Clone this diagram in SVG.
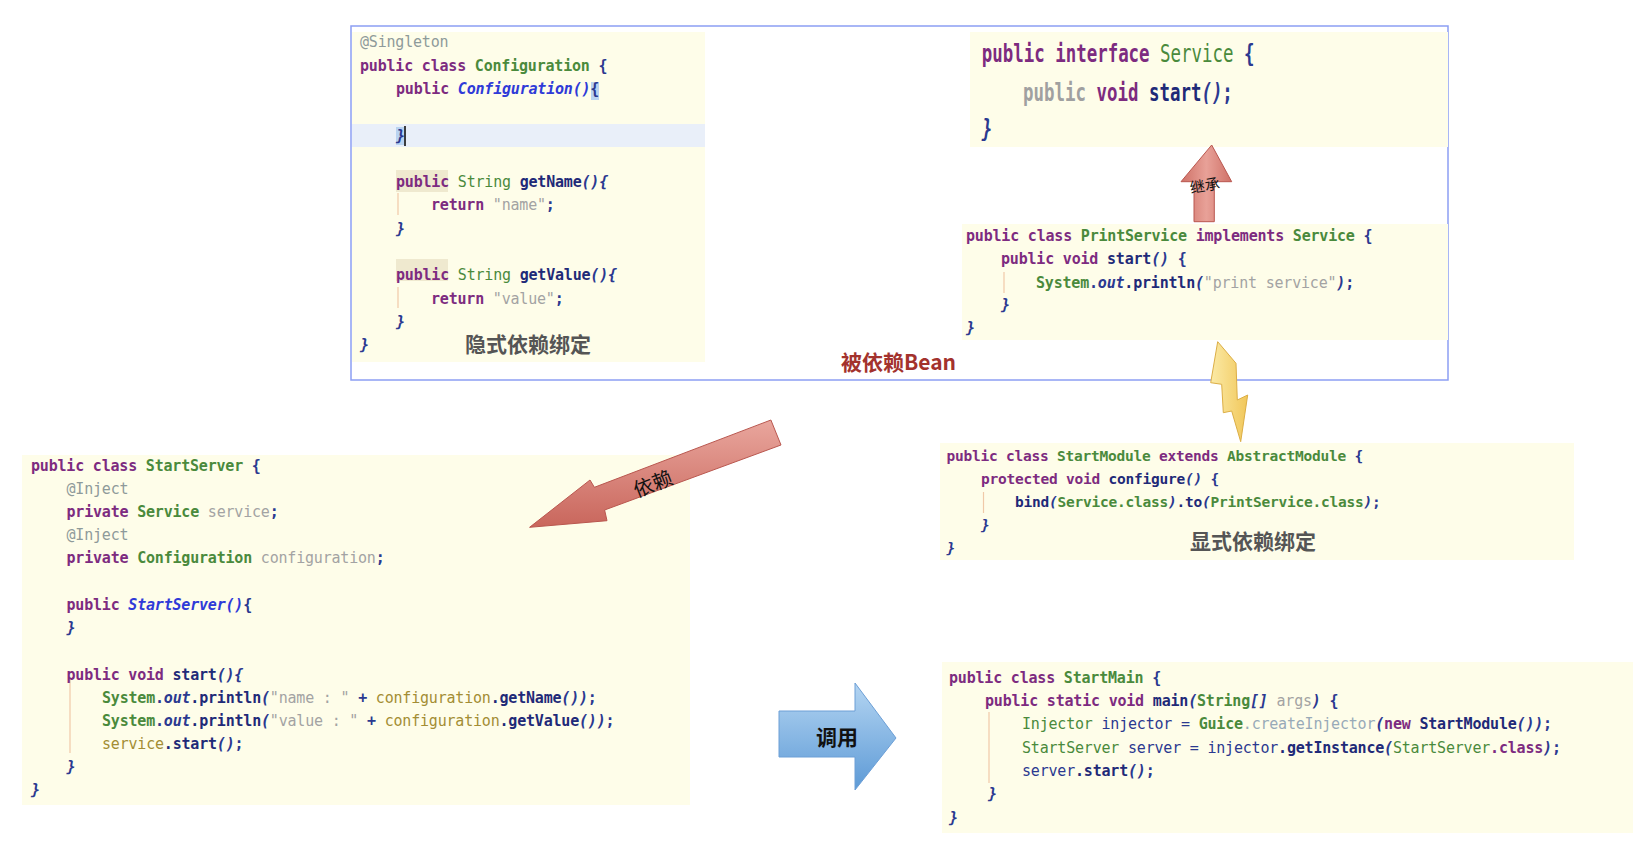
<svg xmlns="http://www.w3.org/2000/svg" width="1640" height="854" viewBox="0 0 1640 854">
<style>
.bg{fill:#fefde9}
.c{font-family:"DejaVu Sans Mono","Liberation Mono",monospace;font-size:15px;letter-spacing:-0.2px;fill:#2b3990}
.cs{font-size:14.5px;letter-spacing:-0.23px}
.cb{font-size:24px;letter-spacing:0}
.k{fill:#7d2b80;font-weight:bold}
.t{fill:#4a8a3c}
.tb{fill:#4a8a3c;font-weight:bold}
.m{fill:#1f2a78;font-weight:bold}
.s{fill:#a3a3a3}
.a{fill:#8e9a9a}
.f{fill:#a38d34}
.gv{fill:#a0a0a0;font-weight:bold}
.ci{fill:#2f3ad8;font-style:italic}
.i{font-style:italic}
.n{fill:#2b3990}
.ce{fill:#98aab8}
.guide{stroke:#f0c9a8;stroke-width:1.2}
.cjk{font-family:"Noto Sans CJK SC","Liberation Sans",sans-serif}
.lbl{font-family:"Noto Sans CJK SC","Liberation Sans",sans-serif;font-weight:bold;font-size:21px;fill:#555}
</style>
<defs>
<linearGradient id="red" x1="0" y1="0" x2="0" y2="1">
<stop offset="0" stop-color="#e9a69d"/><stop offset="1" stop-color="#c9665c"/>
</linearGradient>
<linearGradient id="redH" x1="0" y1="0" x2="1" y2="0">
<stop offset="0" stop-color="#cf7167"/><stop offset="0.5" stop-color="#e8a198"/><stop offset="1" stop-color="#cf7167"/>
</linearGradient>
<linearGradient id="blue" x1="0" y1="0" x2="0" y2="1">
<stop offset="0" stop-color="#b4d5f2"/><stop offset="1" stop-color="#5d9ad6"/>
</linearGradient>
<linearGradient id="yel" x1="0" y1="0" x2="1" y2="0">
<stop offset="0" stop-color="#fbeaa6"/><stop offset="1" stop-color="#f1c75a"/>
</linearGradient>
</defs>

<!-- frame around dependency beans -->
<g id="frame">
<rect x="351" y="26" width="1097" height="354" fill="none" stroke="#8c9ef3" stroke-width="1.5"/>
<text x="841" y="370" font-family="'Noto Sans CJK SC','Liberation Sans',sans-serif" font-size="21" font-weight="bold" fill="#a3322d">被依赖Bean</text>
</g>

<!-- Configuration -->
<g id="configuration">
<rect class="bg" x="352" y="32" width="353" height="330"/>
<rect x="352" y="124" width="353" height="23" fill="#e9eff9"/>
<rect x="591" y="82" width="8" height="18" fill="#b9d3f1"/>
<rect x="396" y="127" width="8" height="18" fill="#b9d3f1"/>
<line x1="405" y1="126" x2="405" y2="146" stroke="#000" stroke-width="1.5"/>
<rect x="396" y="170" width="52" height="22" fill="#efe9cf"/>
<rect x="396" y="259" width="52" height="22" fill="#efe9cf"/>
<line class="guide" x1="398" y1="193" x2="398" y2="215"/>
<line class="guide" x1="398" y1="287" x2="398" y2="308"/>
<text class="c" x="360" y="47"><tspan class="a">@Singleton</tspan></text>
<text class="c" x="360" y="71"><tspan class="k">public class</tspan> <tspan class="tb">Configuration</tspan> <tspan font-weight="bold">{</tspan></text>
<text class="c" x="396" y="94"><tspan class="k">public</tspan> <tspan class="ci" font-weight="bold">Configuration()</tspan><tspan font-weight="bold">{</tspan></text>
<text class="c" x="396" y="141"><tspan class="i" font-weight="bold">}</tspan></text>
<text class="c" x="396" y="187"><tspan class="k">public</tspan> <tspan class="t">String</tspan> <tspan class="m">getName</tspan><tspan class="i" font-weight="bold">(){</tspan></text>
<text class="c" x="431" y="210"><tspan class="k">return</tspan> <tspan class="s">"name"</tspan><tspan font-weight="bold">;</tspan></text>
<text class="c" x="396" y="234"><tspan class="i" font-weight="bold">}</tspan></text>
<text class="c" x="396" y="280"><tspan class="k">public</tspan> <tspan class="t">String</tspan> <tspan class="m">getValue</tspan><tspan class="i" font-weight="bold">(){</tspan></text>
<text class="c" x="431" y="304"><tspan class="k">return</tspan> <tspan class="s">"value"</tspan><tspan font-weight="bold">;</tspan></text>
<text class="c" x="396" y="327"><tspan class="i" font-weight="bold">}</tspan></text>
<text class="c" x="360" y="350"><tspan class="i" font-weight="bold">}</tspan></text>
<text class="lbl" x="465" y="352">隐式依赖绑定</text>
</g>

<!-- Service interface -->
<g id="service">
<rect class="bg" x="970" y="32" width="478" height="115"/>
<g transform="translate(981.7 0) scale(0.7266 1)">
<text class="c cb" x="0" y="62"><tspan class="k">public interface</tspan> <tspan class="t">Service</tspan> <tspan font-weight="bold">{</tspan></text>
<text class="c cb" x="56.8" y="101.5"><tspan class="gv">public</tspan> <tspan class="k">void</tspan> <tspan class="m">start</tspan><tspan class="i" font-weight="bold">()</tspan><tspan font-weight="bold">;</tspan></text>
<text class="c cb" x="0" y="137"><tspan class="i" font-weight="bold">}</tspan></text>
</g>
</g>

<!-- PrintService -->
<g id="printservice">
<rect class="bg" x="962" y="224" width="486" height="116"/>
<line class="guide" x1="1004" y1="272" x2="1004" y2="293"/>
<text class="c" x="966" y="241"><tspan class="k">public class</tspan> <tspan class="tb">PrintService</tspan> <tspan class="k">implements</tspan> <tspan class="tb">Service</tspan> <tspan font-weight="bold">{</tspan></text>
<text class="c" x="1001" y="264"><tspan class="k">public void</tspan> <tspan class="m">start</tspan><tspan class="i" font-weight="bold">()</tspan> <tspan font-weight="bold">{</tspan></text>
<text class="c" x="1036" y="288"><tspan class="tb">System</tspan><tspan font-weight="bold">.</tspan><tspan class="i" font-weight="bold">out</tspan><tspan class="m">.println</tspan><tspan class="i" font-weight="bold">(</tspan><tspan class="s">"print service"</tspan><tspan class="i" font-weight="bold">)</tspan><tspan font-weight="bold">;</tspan></text>
<text class="c" x="1001" y="310"><tspan class="i" font-weight="bold">}</tspan></text>
<text class="c" x="966" y="333"><tspan class="i" font-weight="bold">}</tspan></text>
</g>

<!-- StartModule -->
<g id="startmodule">
<rect class="bg" x="940" y="443" width="634" height="117"/>
<line class="guide" x1="983.5" y1="492" x2="983.5" y2="513"/>
<text class="c cs" x="946.5" y="461"><tspan class="k">public class</tspan> <tspan class="tb">StartModule</tspan> <tspan class="k">extends</tspan> <tspan class="tb">AbstractModule</tspan> <tspan font-weight="bold">{</tspan></text>
<text class="c cs" x="981" y="484"><tspan class="k">protected void</tspan> <tspan class="m">configure</tspan><tspan class="i" font-weight="bold">()</tspan> <tspan font-weight="bold">{</tspan></text>
<text class="c cs" x="1015" y="507"><tspan class="m">bind</tspan><tspan class="i" font-weight="bold">(</tspan><tspan class="tb">Service.class</tspan><tspan class="i" font-weight="bold">)</tspan><tspan class="m">.to</tspan><tspan class="i" font-weight="bold">(</tspan><tspan class="tb">PrintService.class</tspan><tspan class="i" font-weight="bold">)</tspan><tspan font-weight="bold">;</tspan></text>
<text class="c cs" x="981" y="530"><tspan class="i" font-weight="bold">}</tspan></text>
<text class="c cs" x="946.5" y="553"><tspan class="i" font-weight="bold">}</tspan></text>
<text class="lbl" x="1190" y="549">显式依赖绑定</text>
</g>

<!-- StartServer -->
<g id="startserver">
<rect class="bg" x="22" y="455" width="668" height="350"/>
<line class="guide" x1="70" y1="678" x2="70" y2="753"/>
<text class="c" x="31" y="470.7"><tspan class="k">public class</tspan> <tspan class="tb">StartServer</tspan> <tspan font-weight="bold">{</tspan></text>
<text class="c" x="66.5" y="494"><tspan class="a">@Inject</tspan></text>
<text class="c" x="66.5" y="517"><tspan class="k">private</tspan> <tspan class="tb">Service</tspan> <tspan class="s">service</tspan><tspan font-weight="bold">;</tspan></text>
<text class="c" x="66.5" y="540"><tspan class="a">@Inject</tspan></text>
<text class="c" x="66.5" y="563"><tspan class="k">private</tspan> <tspan class="tb">Configuration</tspan> <tspan class="s">configuration</tspan><tspan font-weight="bold">;</tspan></text>
<text class="c" x="66.5" y="610"><tspan class="k">public</tspan> <tspan class="ci" font-weight="bold">StartServer()</tspan><tspan font-weight="bold">{</tspan></text>
<text class="c" x="66.5" y="633"><tspan class="i" font-weight="bold">}</tspan></text>
<text class="c" x="66.5" y="680"><tspan class="k">public void</tspan> <tspan class="m">start</tspan><tspan class="i" font-weight="bold">(){</tspan></text>
<text class="c" x="102" y="703"><tspan class="tb">System</tspan><tspan font-weight="bold">.</tspan><tspan class="i" font-weight="bold">out</tspan><tspan class="m">.println</tspan><tspan class="i" font-weight="bold">(</tspan><tspan class="s">"name : "</tspan> <tspan font-weight="bold">+</tspan> <tspan class="f">configuration</tspan><tspan class="m">.getName</tspan><tspan class="i" font-weight="bold">())</tspan><tspan font-weight="bold">;</tspan></text>
<text class="c" x="102" y="726"><tspan class="tb">System</tspan><tspan font-weight="bold">.</tspan><tspan class="i" font-weight="bold">out</tspan><tspan class="m">.println</tspan><tspan class="i" font-weight="bold">(</tspan><tspan class="s">"value : "</tspan> <tspan font-weight="bold">+</tspan> <tspan class="f">configuration</tspan><tspan class="m">.getValue</tspan><tspan class="i" font-weight="bold">())</tspan><tspan font-weight="bold">;</tspan></text>
<text class="c" x="102" y="749"><tspan class="f">service</tspan><tspan class="m">.start</tspan><tspan class="i" font-weight="bold">()</tspan><tspan font-weight="bold">;</tspan></text>
<text class="c" x="66.5" y="772"><tspan class="i" font-weight="bold">}</tspan></text>
<text class="c" x="31" y="795"><tspan class="i" font-weight="bold">}</tspan></text>
</g>

<!-- StartMain -->
<g id="startmain">
<rect class="bg" x="942" y="662" width="691" height="171"/>
<line class="guide" x1="989" y1="712" x2="989" y2="783"/>
<text class="c" x="949" y="683"><tspan class="k">public class</tspan> <tspan class="tb">StartMain</tspan> <tspan font-weight="bold">{</tspan></text>
<text class="c" x="985" y="706"><tspan class="k">public static void</tspan> <tspan class="m">main</tspan><tspan class="i" font-weight="bold">(</tspan><tspan class="tb">String</tspan><tspan class="i" font-weight="bold">[]</tspan> <tspan class="s">args</tspan><tspan class="i" font-weight="bold">)</tspan> <tspan font-weight="bold">{</tspan></text>
<text class="c" x="1022" y="729"><tspan class="t">Injector</tspan> <tspan class="n">injector = </tspan><tspan class="tb">Guice</tspan><tspan class="ce">.createInjector</tspan><tspan class="i" font-weight="bold">(</tspan><tspan class="k">new</tspan> <tspan class="m">StartModule</tspan><tspan class="i" font-weight="bold">())</tspan><tspan font-weight="bold">;</tspan></text>
<text class="c" x="1022" y="753"><tspan class="t">StartServer</tspan> <tspan class="n">server = injector</tspan><tspan class="m">.getInstance</tspan><tspan class="i" font-weight="bold">(</tspan><tspan class="t">StartServer</tspan><tspan class="k">.class</tspan><tspan class="i" font-weight="bold">)</tspan><tspan font-weight="bold">;</tspan></text>
<text class="c" x="1022" y="776"><tspan class="n">server</tspan><tspan class="m">.start</tspan><tspan class="i" font-weight="bold">()</tspan><tspan font-weight="bold">;</tspan></text>
<text class="c" x="988" y="799"><tspan class="i" font-weight="bold">}</tspan></text>
<text class="c" x="949" y="823"><tspan class="i" font-weight="bold">}</tspan></text>
</g>

<!-- connectors -->
<g id="connectors">
<g id="inherit">
<polygon points="1211.7,145 1231.7,181.7 1214.3,181.7 1214.3,221.7 1194,221.7 1194,181.7 1181,181.7" fill="url(#redH)" stroke="#b9574f" stroke-width="1"/>
<text class="cjk" x="1205" y="191" font-size="15" fill="#111" text-anchor="middle" transform="rotate(-10 1205 186)">继承</text>
</g>
<g id="bolt">
<polygon points="1217.7,341.7 1236,363.3 1237.3,400 1247.7,395 1240.7,441.7 1231.7,411 1223.3,412.7 1221.7,384.3 1210.7,382.7" fill="url(#yel)" stroke="#dcae45" stroke-width="1"/>
</g>
<g id="depend">
<polygon points="529.6,527.3 590,480 594.4,487.3 770.9,420 781,445 604.6,510 607,520.7" fill="url(#red)" stroke="#b9574f" stroke-width="1"/>
<text class="cjk" x="653" y="491" font-size="20" fill="#111" text-anchor="middle" transform="rotate(-21 653 484)">依赖</text>
</g>
<g id="call">
<polygon points="779,711 855,711 855,683 896,738 855,790 855,757 779,757" fill="url(#blue)" stroke="#6c9fd6" stroke-width="1"/>
<text class="cjk" x="837" y="745" font-size="21" font-weight="bold" fill="#111" text-anchor="middle">调用</text>
</g>
</g>
</svg>
